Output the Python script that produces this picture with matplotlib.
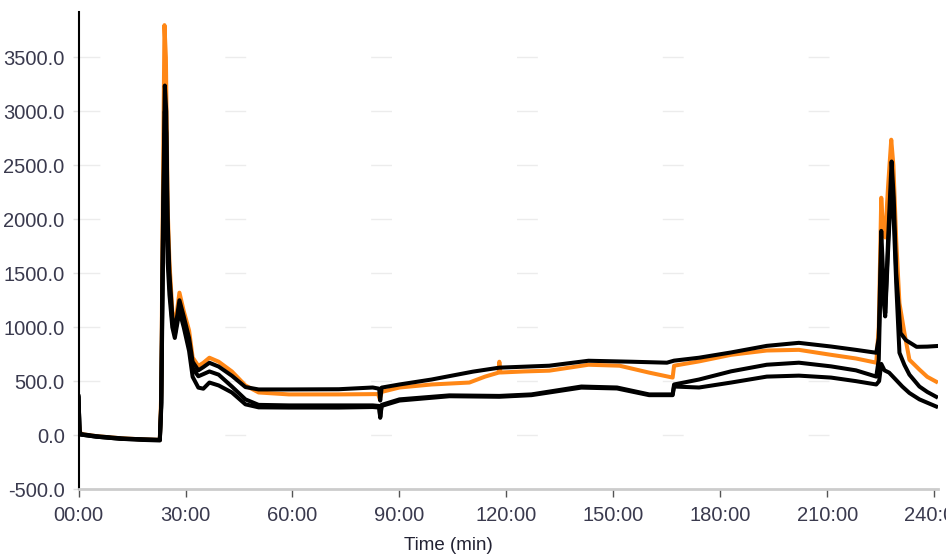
import matplotlib
matplotlib.use("Agg")
import matplotlib.pyplot as plt
from matplotlib.ticker import FuncFormatter

# time in minutes
t_orange = [0, 0.3, 0.6, 5, 12, 18, 22.8, 23.2, 23.6, 24.1, 24.5, 25.0, 25.5, 26.3, 27.0,
            28.3, 29.5, 31, 32, 33.6, 35, 36.7, 39.3, 43, 46.8, 50.5, 59, 73, 84, 84.5,
            85, 90, 99, 109.6, 114, 117.8, 118, 118.3, 125, 132, 143, 151.7, 160, 166.6,
            167.0, 174, 183, 193, 202, 211, 218, 223.7, 224.4, 225.1, 225.6, 226.2,
            227.0, 227.9, 228.5, 229.3, 230.2, 231.6, 233, 235.8, 238, 240.5]
v_orange = [130, 60, 10, -10, -30, -40, -45, 400, 2000, 3800, 3500, 2100, 1600, 1150, 1000,
            1320, 1150, 970, 720, 640, 670, 717, 680, 590, 460, 395, 377, 377, 380, 330,
            400, 441, 469, 487, 542, 579, 680, 580, 590, 597, 652, 643, 579, 533,
            643, 683, 744, 784, 790, 744, 710, 671, 1000, 2200, 1900, 1832,
            2300, 2738, 2500, 1800, 1222, 946, 698, 607, 540, 495]

t_black1 = [0, 0.3, 0.6, 5, 12, 18, 22.8, 23.2, 23.6, 24.2, 24.6, 25.0, 25.5, 26.3, 27.0,
            28.3, 29.5, 31, 32, 33.6, 35, 36.7, 39.3, 43, 46.8, 50.5, 59, 73, 82.5, 84.3,
            84.6, 85, 90, 99, 110.6, 118, 132, 143, 155, 165, 167, 174, 183, 193, 202,
            211, 218, 223.7, 224.4, 225.1, 225.6, 226.2, 227.0, 228.0, 228.6, 229.3,
            230.5, 232, 235, 238, 240.5]
v_black1 = [360, 40, 10, -10, -30, -40, -45, 300, 1800, 3240, 3000, 2000, 1500, 1100, 950,
            1250, 1100, 900, 680, 600, 630, 670, 635, 550, 445, 423, 423, 425, 441, 430,
            320, 440, 469, 515, 588, 625, 643, 689, 680, 671, 690, 717, 766, 827, 855,
            821, 790, 763, 900, 1893, 1500, 1130, 1800, 2536, 2200, 1500,
            946, 880, 818, 820, 825]

t_black2 = [0, 0.3, 0.6, 5, 12, 18, 22.8, 23.2, 23.6, 24.2, 24.6, 25.0, 25.5, 26.3, 27.0,
            28.3, 29.5, 31, 32, 33.6, 35, 36.7, 39.3, 43, 46.8, 50.5, 59, 73, 82.5, 84.3,
            84.6, 85, 90, 104, 118, 127, 141, 151, 160, 166.6, 167, 174, 183, 193, 202,
            211, 218, 223.7, 224.4, 225.1, 225.6, 226.2, 227, 228, 228.6, 229.3, 230.2,
            231.6, 233, 235.8, 238, 240.5]
v_black2 = [350, 30, 5, -15, -35, -40, -45, 300, 1600, 3000, 2800, 1800, 1400, 1050, 930,
            1200, 1050, 850, 620, 545, 565, 590, 560, 450, 331, 280, 275, 275, 275, 270,
            170, 280, 331, 368, 363, 377, 450, 441, 377, 377, 469, 515, 591, 652, 671,
            637, 600, 542, 700, 1700, 1300, 1100, 1700, 2400, 2000, 1400, 763,
            650, 560, 450, 400, 355]

t_black3 = [0, 0.3, 0.6, 5, 12, 18, 22.8, 23.2, 23.6, 24.2, 24.6, 25, 25.5, 26.3, 27,
            28.3, 29.5, 31, 32, 33.6, 35, 36.7, 39.3, 43, 46.8, 50.5, 59, 73, 82.5, 84.3,
            84.6, 85, 90, 104, 118, 127, 141, 151, 160, 166.6, 167, 174, 183, 193, 202,
            211, 218, 223.7, 224.5, 225.1, 226, 227.3, 229, 231, 233, 235.8, 238, 240.5]
v_black3 = [340, 30, 5, -15, -35, -45, -50, 250, 1400, 2800, 2500, 1600, 1300, 1000, 900,
            1150, 1000, 780, 540, 440, 430, 487, 460, 395, 285, 257, 255, 255, 260, 255,
            160, 270, 320, 360, 355, 370, 440, 432, 370, 370, 450, 441, 487, 542, 551,
            533, 500, 469, 500, 660, 600, 579, 520, 450, 390, 331, 300, 265]

x_ticks = [0, 30, 60, 90, 120, 150, 180, 210, 240]
y_ticks = [-500, 0, 500, 1000, 1500, 2000, 2500, 3000, 3500]

label_color = "#3a3a4e"

fig = plt.figure(figsize=(9.46, 5.54), dpi=100)
ax = fig.add_axes([0.083, 0.1173, 0.9085, 0.8607])

ax.plot(t_orange, v_orange, color="#ff8716", lw=2.9, zorder=2)
for tt, vv in [(t_black1, v_black1), (t_black2, v_black2), (t_black3, v_black3)]:
    ax.plot(tt, vv, color="black", lw=2.9, zorder=3)

ax.set_xlim(0, 241)
ax.set_ylim(-500, 3920)
ax.set_xticks(x_ticks)
ax.set_yticks(y_ticks)
ax.xaxis.set_major_formatter(FuncFormatter(lambda v, p: "%02d:00" % v))
ax.yaxis.set_major_formatter(FuncFormatter(lambda v, p: "%.1f" % v))

for lab in ax.get_xticklabels() + ax.get_yticklabels():
    lab.set_fontfamily("Liberation Sans")
    lab.set_fontsize(14.5)
    lab.set_color(label_color)

ax.tick_params(axis="x", direction="out", length=6, width=1, color="#555555", pad=6)
ax.tick_params(axis="y", length=4, width=1, color="#e0e0e0", pad=6)

# the grid in the reference is mostly washed out, only short faint dashes remain
ax.yaxis.grid(True, color="#ececec", lw=1, linestyle=(0, (15, 90)))
ax.set_axisbelow(True)

for s in ["top", "right"]:
    ax.spines[s].set_visible(False)
ax.spines["left"].set_color("black")
ax.spines["left"].set_linewidth(1.5)
ax.spines["bottom"].set_color("#cccccc")
ax.spines["bottom"].set_linewidth(2)

fig.text(448 / 946, 1 - 545 / 554, "Time (min)", ha="center", va="center",
         fontsize=13.5, color="#222233", family="Liberation Sans")

fig.savefig("out.png", dpi=100)
